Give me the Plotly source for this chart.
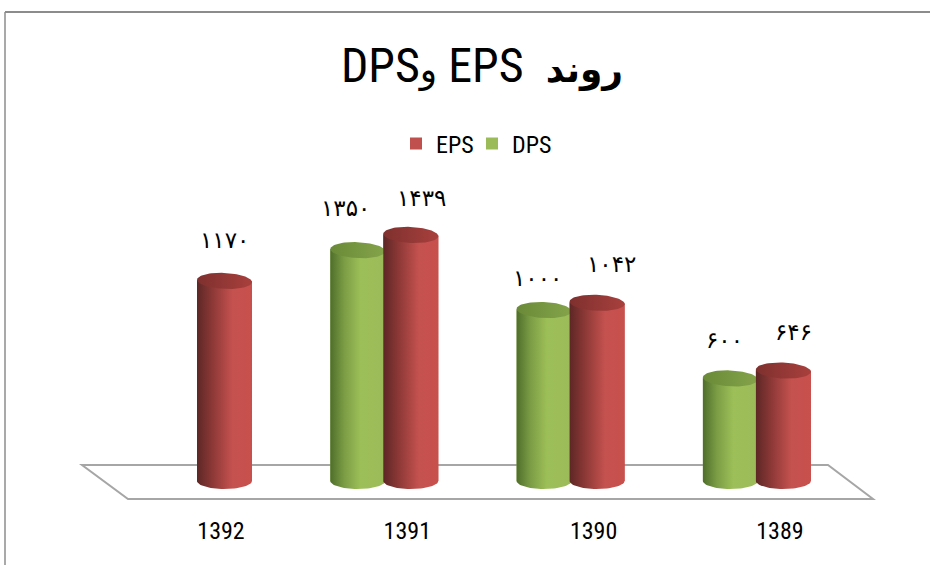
import numpy as np
import plotly.graph_objects as go

years = ["1392", "1391", "1390", "1389"]
eps = [1170, 1439, 1042, 646]
dps = [None, 1350, 1000, 600]
eps_text = ["۱۱۷۰", "۱۴۳۹", "۱۰۴۲", "۶۴۶"]
dps_text = [None, "۱۳۵۰", "۱۰۰۰", "۶۰۰"]
eps_label_shift = [(0, 41), (11, 37), (14, 39), (10, 39)]
dps_label_shift = [None, (-12, 42), (-7, 32), (-6, 38)]

W, H = 930, 565
PLOT_B = 512
ZERO_PX, PX_PER_UNIT = 481, 0.171
X0_PX, PX_PER_CAT = 221, 186.3
BAR_W = 55 / PX_PER_CAT
EPS_OFF, DPS_OFF = 3.5 / PX_PER_CAT, -49.5 / PX_PER_CAT
RY = 8 / PX_PER_UNIT
TILT = 1.2 / PX_PER_UNIT
NARROW = "Roboto Condensed, DejaVu Sans, sans-serif"

pos = np.arange(len(years), dtype=float)
fig = go.Figure()

fig.add_bar(x=pos + EPS_OFF, y=eps, width=BAR_W, name="EPS", marker=dict(color="#C0504D", line_width=0),
            hoverinfo="skip", legend="legend")
fig.add_bar(x=pos + DPS_OFF, y=dps, width=BAR_W, name="DPS", marker=dict(color="#9BBB59", line_width=0),
            hoverinfo="skip", legend="legend2")

RED_BODY = [[0, "#5d2725"], [0.3, "#8f3a38"], [0.65, "#c5524f"], [1, "#c84f4c"]]
GREEN_BODY = [[0, "#4f6f2b"], [0.25, "#7b9c44"], [0.55, "#9dbf58"], [1, "#9bbb59"]]
RED_TOP = [[0, "#7e302e"], [1, "#a8403d"]]
GREEN_TOP = [[0, "#6a8a38"], [1, "#84a34a"]]


def cylinder(cx, v, body, top):
    t = np.linspace(0, np.pi, 40)
    hw = BAR_W / 2
    bx = np.concatenate([[cx - hw, cx + hw], cx + hw * np.cos(t)])
    by = np.concatenate([[v + TILT, v - TILT], -RY * np.sin(t)])
    fig.add_scatter(x=bx, y=by, mode="lines", fill="toself", line=dict(width=0),
                    fillgradient=dict(type="horizontal", colorscale=body),
                    showlegend=False, hoverinfo="skip")
    t2 = np.linspace(0, 2 * np.pi, 80)
    fig.add_scatter(x=cx + hw * np.cos(t2), y=v + RY * np.sin(t2) - TILT * np.cos(t2), mode="lines", fill="toself",
                    line=dict(width=0), fillgradient=dict(type="horizontal", colorscale=top),
                    showlegend=False, hoverinfo="skip")


for i in range(len(years)):
    if dps[i] is not None:
        cylinder(pos[i] + DPS_OFF, dps[i], GREEN_BODY, GREEN_TOP)
    cylinder(pos[i] + EPS_OFF, eps[i], RED_BODY, RED_TOP)

annotations = []
for offs, vals, texts, shifts in ((EPS_OFF, eps, eps_text, eps_label_shift), (DPS_OFF, dps, dps_text, dps_label_shift)):
    for i, v in enumerate(vals):
        if v is None:
            continue
        annotations.append(dict(x=pos[i] + offs, y=v, text=texts[i], showarrow=False,
                                xshift=shifts[i][0], yshift=shifts[i][1],
                                font=dict(family="DejaVu Sans", size=23, color="#000")))


def px(x):
    return x / W


def py(y):
    return 1 - y / PLOT_B


GREY = "#8c8c8c"
shapes = [
    dict(type="path", xref="paper", yref="paper", layer="below",
         path=f"M{px(82)},{py(465)} L{px(828)},{py(465)} L{px(873)},{py(499)} L{px(128)},{py(499)} Z",
         line=dict(color="#a6a6a6", width=2), fillcolor="white"),
    dict(type="line", xref="paper", yref="paper", x0=px(5), x1=px(930), y0=py(12), y1=py(12),
         line=dict(color=GREY, width=2)),
    dict(type="line", xref="paper", yref="paper", x0=px(5), x1=px(5), y0=py(12), y1=py(565),
         line=dict(color=GREY, width=1.5)),
]

PERSIAN = '<span style="font-size:36px">{}</span>'
legend_common = dict(orientation="h", yanchor="middle", y=py(144), xanchor="left",
                     font=dict(family=NARROW, size=24, color="#000"), bgcolor="rgba(0,0,0,0)",
                     itemwidth=30)

fig.update_layout(
    width=W, height=H, autosize=False,
    margin=dict(l=0, r=0, t=0, b=H - PLOT_B),
    paper_bgcolor="white", plot_bgcolor="white",
    barmode="overlay",
    title=dict(text="DPS" + PERSIAN.format("و") + " EPS  " + PERSIAN.format("<b>روند</b>"),
               x=482 / W, xanchor="center", y=1 - 65 / H, yanchor="middle",
               font=dict(family=NARROW, size=48, color="#000")),
    legend=dict(x=px(396), **legend_common),
    legend2=dict(x=px(472), **legend_common),
    xaxis=dict(range=[-X0_PX / PX_PER_CAT, (W - X0_PX) / PX_PER_CAT], tickvals=pos, ticktext=years,
               showgrid=False, zeroline=False, showline=False, ticks="", fixedrange=True,
               ticklabelstandoff=2,
               tickfont=dict(family=NARROW, size=24, color="#000")),
    yaxis=dict(range=[-(PLOT_B - ZERO_PX) / PX_PER_UNIT, ZERO_PX / PX_PER_UNIT], visible=False, fixedrange=True),
    annotations=annotations, shapes=shapes,
)
fig.write_html("out.html", config={"displayModeBar": False, "responsive": False},
               post_script="document.body.style.margin='0';")
